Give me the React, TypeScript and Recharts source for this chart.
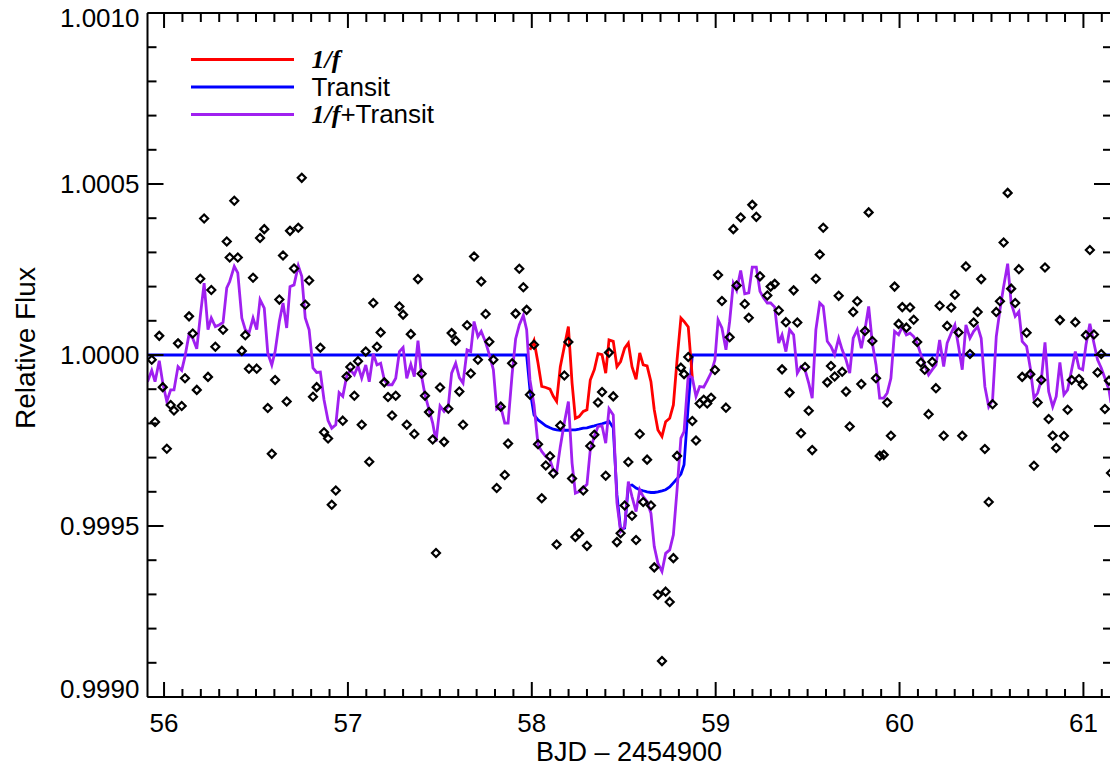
import React from 'react';
import { ComposedChart, Line, Scatter, XAxis, YAxis, Legend } from 'recharts';

// Time grid (BJD - 2454900), one entry per long-cadence sample
const times = [
  55.910, 55.933, 55.951, 55.974, 55.993, 56.015, 56.036, 56.054, 56.076, 56.096,
  56.114, 56.136, 56.156, 56.178, 56.197, 56.218, 56.239, 56.257, 56.279, 56.299,
  56.321, 56.341, 56.357, 56.382, 56.401, 56.423, 56.442, 56.462, 56.484, 56.504,
  56.522, 56.545, 56.564, 56.586, 56.604, 56.627, 56.647, 56.667, 56.685, 56.707,
  56.730, 56.749, 56.768, 56.789, 56.810, 56.830, 56.850, 56.870, 56.892, 56.912,
  56.934, 56.952, 56.972, 56.993, 57.013, 57.035, 57.055, 57.075, 57.097, 57.116,
  57.138, 57.158, 57.178, 57.198, 57.218, 57.240, 57.260, 57.280, 57.300, 57.320,
  57.342, 57.361, 57.381, 57.401, 57.419, 57.441, 57.461, 57.479, 57.501, 57.523,
  57.546, 57.564, 57.586, 57.606, 57.626, 57.648, 57.668, 57.686, 57.707, 57.725,
  57.749, 57.769, 57.791, 57.809, 57.831, 57.853, 57.871, 57.893, 57.912, 57.932,
  57.954, 57.972, 57.990, 58.012, 58.034, 58.054, 58.076, 58.099, 58.117, 58.135,
  58.155, 58.177, 58.199, 58.219, 58.237, 58.257, 58.280, 58.300, 58.318, 58.340,
  58.360, 58.382, 58.402, 58.420, 58.443, 58.463, 58.483, 58.505, 58.525, 58.545,
  58.567, 58.587, 58.606, 58.627, 58.648, 58.666, 58.686, 58.708, 58.728, 58.750,
  58.770, 58.790, 58.811, 58.828, 58.851, 58.873, 58.893, 58.913, 58.935, 58.954,
  58.975, 58.996, 59.013, 59.034, 59.056, 59.076, 59.096, 59.114, 59.136, 59.158,
  59.180, 59.199, 59.221, 59.241, 59.261, 59.281, 59.299, 59.321, 59.343, 59.361,
  59.382, 59.402, 59.424, 59.444, 59.464, 59.486, 59.506, 59.525, 59.545, 59.566,
  59.585, 59.607, 59.627, 59.647, 59.669, 59.688, 59.709, 59.729, 59.748, 59.770,
  59.792, 59.812, 59.832, 59.852, 59.872, 59.892, 59.914, 59.933, 59.953, 59.973,
  59.995, 60.015, 60.037, 60.057, 60.077, 60.096, 60.116, 60.137, 60.158, 60.178,
  60.198, 60.218, 60.240, 60.259, 60.281, 60.301, 60.321, 60.341, 60.361, 60.383,
  60.403, 60.425, 60.444, 60.464, 60.485, 60.506, 60.526, 60.546, 60.566, 60.588,
  60.607, 60.629, 60.649, 60.667, 60.691, 60.711, 60.731, 60.751, 60.771, 60.791,
  60.811, 60.833, 60.852, 60.872, 60.894, 60.914, 60.936, 60.956, 60.976, 60.996,
  61.014, 61.035, 61.057, 61.077, 61.097, 61.117, 61.139, 61.150,
];

// Observed relative flux (null where no sample is visible)
const observedFlux = [
  null, 0.999986, 0.999804, 1.000056, 0.999906, 0.999726, 0.999854, 0.999838, 1.000034, 0.999851,
  0.999932, 1.000113, 1.000063, 0.999898, 1.000223, 1.000399, 0.999936, 1.000190, 1.000024, null,
  1.000074, 1.000332, 1.000285, 1.000451, 1.000285, 1.000012, 1.000058, 0.999960, 1.000226, 0.999960,
  1.000342, 1.000368, 0.999845, 0.999711, 0.999927, 1.000162, 1.000291, 0.999864, 1.000363, 1.000253,
  1.000372, 1.000518, 1.000147, 1.000218, 0.999878, 0.999906, 1.000021, 0.999774, 0.999756, 0.999562,
  0.999604, null, 0.999808, 0.999937, 0.999965, 0.999881, 0.999982, 0.999796, 1.000010, 0.999688,
  1.000152, 1.000024, 1.000066, 0.999920, 0.999877, 0.999823, 0.999881, 1.000142, 1.000118, 0.999796,
  1.000061, 0.999769, 1.000222, 0.999945, 0.999881, 0.999833, 0.999753, 0.999421, 0.999905, 0.999746,
  0.999843, 1.000064, 1.000042, 0.999893, 0.999796, 1.000087, 0.999946, 1.000288, 0.999986, 1.000215,
  1.000120, 1.000039, 0.999986, 0.999611, 0.999849, 0.999649, 0.999741, 0.999976, 1.000121, 1.000252,
  1.000198, 1.000132, 0.999884, 1.000030, 0.999739, 0.999581, 0.999677, 0.999704, 0.999654, 0.999446,
  0.999794, 0.999940, 1.000038, 0.999639, 0.999468, 0.999479, 0.999604, 0.999442, 0.999734, 0.999767,
  0.999861, 0.999892, 0.999647, 1.000007, 0.999879, 0.999453, 0.999479, 0.999560, 0.999687, 0.999530,
  0.999459, 0.999769, 0.999570, 0.999694, 0.999560, 0.999379, 0.999299, 0.999105, 0.999308, 0.999278,
  0.999406, 0.999705, 0.999963, 0.999944, 0.999994, 0.999807, 0.999750, 0.999858, 0.999869, 0.999858,
  0.999875, 0.999956, 1.000234, 1.000158, 0.999846, 1.000052, 1.000368, 1.000203, 1.000402, 1.000149,
  1.000109, 1.000439, 1.000404, 1.000230, null, 1.000174, 1.000200, 1.000208, 1.000130, 0.999958,
  1.000096, 0.999890, 1.000189, 1.000095, 0.999771, 0.999965, 0.999837, 0.999722, 1.000223, 1.000294,
  1.000372, 0.999920, 0.999968, 0.999937, 1.000173, 0.999951, 0.999893, 0.999791, 1.000126, 1.000157,
  0.999915, 1.000070, 1.000417, 1.000041, 0.999932, 0.999705, 0.999708, 0.999861, 0.999764, 1.000200,
  1.000091, 1.000140, 1.000080, 1.000139, 1.000103, 1.000038, 0.999978, 0.999957, 0.999827, 0.999980,
  0.999903, 1.000144, 0.999764, 1.000085, 1.000139, 1.000176, 1.000066, 0.999764, 1.000259, 1.000003,
  1.000095, 1.000126, 1.000222, 0.999725, 0.999570, 0.999856, 1.000126, 1.000157, 1.000329, 1.000474,
  1.000194, 1.000152, 1.000251, 0.999936, 1.000065, 0.999944, 0.999676, 0.999861, 0.999927, 1.000256,
  0.999813, 0.999764, 0.999728, 1.000102, 0.999763, 0.999840, 0.999927, 1.000096, 0.999930, 0.999913,
  1.000058, 1.000307, 1.000060, 0.999949, 1.000003, 0.999842, 0.999925, 0.999655,
];

// 1/f + Transit model (purple)
const combinedModel = [
  0.999922, 0.999955, 0.999922, 0.999983, 0.999918, 0.999864, 0.999898, 0.999898, 0.999966, 0.999955,
  0.999996, 1.000061, 1.000049, 1.000018, 1.000113, 1.000210, 1.000074, 1.000108, 1.000083, 1.000088,
  1.000095, 1.000196, 1.000215, 1.000259, 1.000240, 1.000108, 1.000074, 1.000064, 1.000108, 1.000074,
  1.000162, 1.000137, 1.000006, 0.999971, 1.000010, 1.000098, 1.000152, 1.000079, 1.000200, 1.000205,
  1.000261, 1.000230, 1.000108, 1.000074, 0.999962, 0.999949, 0.999950, 0.999869, 0.999808, 0.999786,
  0.999796, 0.999890, 0.999879, 0.999937, 0.999957, 0.999942, 0.999968, 0.999932, 0.999971, 0.999922,
  1.000004, 0.999971, 0.999976, 0.999927, 0.999913, 0.999913, 0.999932, 1.000010, 1.000022, 0.999932,
  0.999973, 0.999937, 1.000042, 0.999937, 0.999884, 0.999840, 0.999801, 0.999747, 0.999851, 0.999835,
  0.999851, 0.999947, 0.999976, 0.999934, 0.999918, 1.000015, 1.000010, 1.000098, 1.000054, 1.000069,
  1.000037, 1.000001, 0.999957, 0.999842, 0.999849, 0.999801, 0.999801, 0.999944, 1.000047, 1.000088,
  1.000116, 1.000074, 0.999927, 0.999854, 0.999737, 0.999718, 0.999703, 0.999693, 0.999664, 0.999656,
  0.999732, 0.999802, 0.999864, 0.999684, 0.999596, 0.999601, 0.999611, 0.999622, 0.999723, 0.999762,
  0.999791, 0.999793, 0.999742, 0.999843, 0.999825, 0.999568, 0.999484, 0.999498, 0.999630, 0.999586,
  0.999542, 0.999606, 0.999586, 0.999571, 0.999537, 0.999440, 0.999391, 0.999367, 0.999420, 0.999430,
  0.999474, 0.999606, 0.999757, 0.999776, 0.999942, 0.999933, 0.999879, 0.999908, 0.999906, 0.999925,
  0.999948, 0.999986, 1.000103, 1.000079, 1.000015, 1.000098, 1.000210, 1.000189, 1.000247, 1.000179,
  1.000182, 1.000257, 1.000257, 1.000186, 1.000167, 1.000152, 1.000152, 1.000140, 1.000035, 1.000059,
  1.000010, 1.000074, 1.000059, 0.999947, 0.999966, 0.999957, 0.999918, 0.999874, 1.000074, 1.000152,
  1.000142, 1.000040, 1.000025, 1.000001, 1.000049, 1.000015, 0.999986, 0.999947, 1.000049, 1.000074,
  1.000020, 1.000074, 1.000142, 1.000035, 0.999971, 0.999874, 0.999874, 0.999889, 0.999932, 1.000069,
  1.000059, 1.000083, 1.000059, 1.000064, 1.000054, 1.000035, 1.000001, 0.999971, 0.999942, 0.999957,
  0.999971, 1.000044, 0.999966, 1.000035, 1.000064, 1.000088, 1.000025, 0.999957, 1.000088, 1.000049,
  1.000069, 1.000083, 1.000049, 0.999908, 0.999849, 0.999869, 1.000054, 1.000132, 1.000200, 1.000267,
  1.000152, 1.000113, 1.000127, 1.000040, 1.000025, 0.999962, 0.999874, 0.999889, 0.999927, 1.000037,
  0.999893, 0.999849, 0.999879, 0.999978, 0.999884, 0.999898, 0.999957, 1.000010, 0.999962, 0.999957,
  1.000030, 1.000091, 1.000035, 0.999986, 0.999962, 0.999932, 0.999898, 0.999860,
];

// Transit model (blue)
const transitTimes = [
  55.910, 57.972, 57.990, 58.012, 58.034, 58.054, 58.076, 58.099, 58.117, 58.135,
  58.155, 58.177, 58.199, 58.219, 58.237, 58.257, 58.280, 58.300, 58.318, 58.340,
  58.360, 58.382, 58.402, 58.420, 58.443, 58.463, 58.483, 58.505, 58.525, 58.545,
  58.567, 58.587, 58.606, 58.627, 58.648, 58.666, 58.686, 58.708, 58.728, 58.750,
  58.770, 58.790, 58.811, 58.828, 58.851, 58.873, 61.150,
];
const transitModel = [
  1.000000, 1.000000, 0.999898, 0.999825, 0.999810, 0.999802, 0.999793, 0.999787, 0.999783, 0.999781,
  0.999780, 0.999780, 0.999780, 0.999781, 0.999781, 0.999783, 0.999786, 0.999787, 0.999790, 0.999793,
  0.999796, 0.999799, 0.999802, 0.999806, 0.999787, 0.999591, 0.999489, 0.999494, 0.999617, 0.999620,
  0.999611, 0.999606, 0.999603, 0.999600, 0.999598, 0.999598, 0.999600, 0.999603, 0.999606, 0.999614,
  0.999626, 0.999638, 0.999652, 0.999679, 0.999854, 1.000000, 1.000000,
];

// 1/f noise model (red), shown during transit
const oneOverFTimes = [
  57.990, 58.012, 58.034, 58.054, 58.076, 58.099, 58.117, 58.135, 58.155, 58.177,
  58.199, 58.219, 58.237, 58.257, 58.280, 58.300, 58.318, 58.340, 58.360, 58.382,
  58.402, 58.420, 58.443, 58.463, 58.483, 58.505, 58.525, 58.545, 58.567, 58.587,
  58.606, 58.627, 58.648, 58.666, 58.686, 58.708, 58.728, 58.750, 58.770, 58.790,
  58.811, 58.828, 58.851, 58.873,
];
const oneOverFModel = [
  1.000015, 1.000042, 0.999976, 0.999908, 0.999905, 0.999900, 0.999879, 0.999864, 0.999966, 1.000025,
  1.000083, 0.999918, 0.999815, 0.999820, 0.999835, 0.999840, 0.999927, 0.999957, 1.000004, 1.000001,
  0.999947, 1.000044, 1.000040, 0.999966, 0.999981, 1.000020, 1.000035, 0.999966, 0.999929, 1.000006,
  0.999971, 0.999968, 0.999922, 0.999840, 0.999781, 0.999762, 0.999805, 0.999815, 0.999854, 0.999986,
  1.000108, 1.000098, 1.000082, 0.999933,
];

const xDomain = [55.91, 61.15];
const yDomain = [0.999, 1.001];
const xMajorTicks = [56, 57, 58, 59, 60, 61];
const yMajorTicks = [0.999, 0.9995, 1.0, 1.0005, 1.001];
const yTickLabels = ['0.9990', '0.9995', '1.0000', '1.0005', '1.0010'];
const legendItems = [
  { key: 'f', color: '#ff0000', italic: '1/f', plain: '' },
  { key: 't', color: '#0000ff', italic: '', plain: 'Transit' },
  { key: 'ft', color: '#a020f0', italic: '1/f', plain: '+Transit' },
];

// minor tick positions (0.1 day, 0.0001 flux)
const xTicks: number[] = [];
for (let i = 0; i <= 51; i++) xTicks.push(Math.round((56 + i * 0.1) * 10) / 10);
const yTicks: number[] = [];
for (let i = 0; i <= 20; i++) yTicks.push(Math.round((0.999 + i * 0.0001) * 1e4) / 1e4);

const pointData = times
  .map((t, i) => ({ t, flux: observedFlux[i] }))
  .filter((d) => d.flux !== null);
const modelData = times.map((t, i) => ({ t, combined: combinedModel[i] }));
const transitData = transitTimes.map((t, i) => ({ t, transit: transitModel[i] }));
const noiseData = oneOverFTimes.map((t, i) => ({ t, noise: oneOverFModel[i] }));

const SANS = '"Liberation Sans", Arial, Helvetica, sans-serif';
const SERIF = '"Liberation Serif", "Times New Roman", serif';
const LINE_W = 2.8;

const isXMajor = (v: number) => xMajorTicks.some((m) => Math.abs(m - v) < 1e-6);
const yMajorIndex = (v: number) => yMajorTicks.findIndex((m) => Math.abs(m - v) < 1e-9);

const BottomTick = (props: any) => {
  const { x, y, payload } = props;
  const v = payload.value;
  const major = isXMajor(v);
  return (
    <g>
      <line x1={x} x2={x} y1={y} y2={y - (major ? 15 : 8)} stroke="#000" strokeWidth={2} />
      {major && (
        <text x={x} y={y + 35} textAnchor="middle" fontSize={26} fontFamily={SANS} fill="#000">
          {String(Math.round(v))}
        </text>
      )}
    </g>
  );
};

const TopTick = (props: any) => {
  const { x, y, payload } = props;
  const major = isXMajor(payload.value);
  return <line x1={x} x2={x} y1={y} y2={y + (major ? 15 : 9)} stroke="#000" strokeWidth={2} />;
};

const LeftTick = (props: any) => {
  const { x, y, payload } = props;
  const idx = yMajorIndex(payload.value);
  const major = idx >= 0;
  let base = y + 9;
  if (idx === yMajorTicks.length - 1) base = y + 14;
  if (idx === 0) base = y + 1;
  return (
    <g>
      <line x1={x} x2={x + (major ? 16 : 9)} y1={y} y2={y} stroke="#000" strokeWidth={2} />
      {major && (
        <text x={x - 8} y={base} textAnchor="end" fontSize={26} fontFamily={SANS} fill="#000">
          {yTickLabels[idx]}
        </text>
      )}
    </g>
  );
};

const RightTick = (props: any) => {
  const { x, y, payload } = props;
  const major = yMajorIndex(payload.value) >= 0;
  return <line x1={x} x2={x - (major ? 17 : 8)} y1={y} y2={y} stroke="#000" strokeWidth={2} />;
};

const Diamond = (props: any) => {
  const { cx, cy } = props;
  if (cx == null || cy == null) return null;
  const r = 4;
  return (
    <path
      d={`M${cx},${cy - r}L${cx + r},${cy}L${cx},${cy + r}L${cx - r},${cy}Z`}
      fill="none"
      stroke="#000"
      strokeWidth={2.2}
    />
  );
};

const XTitle = () => (
  <text x={629} y={761} textAnchor="middle" fontSize={27} fontFamily={SANS} fill="#000">
    BJD – 2454900
  </text>
);

const YTitle = () => (
  <text
    x={35}
    y={348}
    transform="rotate(-90 35 348)"
    textAnchor="middle"
    fontSize={28}
    fontFamily={SANS}
    fill="#000"
  >
    Relative Flux
  </text>
);

const LegendContent = () => (
  <svg width={320} height={100} style={{ display: 'block' }}>
    {legendItems.map((it, i) => {
      const ly = 19.5 + i * 27.5;
      return (
        <g key={it.key}>
          <line x1={11} x2={114} y1={ly} y2={ly} stroke={it.color} strokeWidth={LINE_W} />
          <text x={131.5} y={ly + 8.5} fontSize={26} fontFamily={SANS} fill="#000">
            {it.italic && (
              <tspan fontFamily={SERIF} fontStyle="italic" fontWeight="bold">
                {it.italic}
              </tspan>
            )}
            {it.plain && <tspan>{it.plain}</tspan>}
          </text>
        </g>
      );
    })}
  </svg>
);

export default function App() {
  return (
    <div
      style={{
        position: 'absolute',
        left: 0,
        top: 0,
        width: 1110,
        height: 771,
        overflow: 'hidden',
        background: '#fff',
      }}
    >
      <ComposedChart width={1130} height={771} margin={{ top: 12, right: 18, bottom: 0, left: 0 }}>
        <XAxis
          xAxisId="bottom"
          dataKey="t"
          type="number"
          orientation="bottom"
          domain={xDomain}
          allowDataOverflow
          ticks={xTicks}
          interval={0}
          tick={<BottomTick />}
          tickLine={false}
          tickSize={0}
          tickMargin={0}
          height={74}
          axisLine={{ stroke: '#000', strokeWidth: 2 }}
          label={<XTitle />}
        />
        <XAxis
          xAxisId="top"
          dataKey="t"
          type="number"
          orientation="top"
          domain={xDomain}
          allowDataOverflow
          ticks={xTicks}
          interval={0}
          tick={<TopTick />}
          tickLine={false}
          tickSize={0}
          tickMargin={0}
          height={1}
          axisLine={{ stroke: '#000', strokeWidth: 2 }}
        />
        <YAxis
          yAxisId="left"
          type="number"
          orientation="left"
          domain={yDomain}
          allowDataOverflow
          ticks={yTicks}
          interval={0}
          tick={<LeftTick />}
          tickLine={false}
          tickSize={0}
          tickMargin={0}
          width={147.5}
          axisLine={{ stroke: '#000', strokeWidth: 2 }}
          label={<YTitle />}
        />
        <YAxis
          yAxisId="right"
          type="number"
          orientation="right"
          domain={yDomain}
          allowDataOverflow
          ticks={yTicks}
          interval={0}
          tick={<RightTick />}
          tickLine={false}
          tickSize={0}
          tickMargin={0}
          width={1}
          axisLine={{ stroke: '#000', strokeWidth: 2 }}
        />
        <Legend
          layout="vertical"
          align="center"
          verticalAlign="middle"
          wrapperStyle={{ left: 180, top: 40, width: 320, height: 100, margin: 0, padding: 0 }}
          content={<LegendContent />}
        />
        <Scatter
          name="Data"
          data={pointData}
          dataKey="flux"
          xAxisId="bottom"
          yAxisId="left"
          shape={<Diamond />}
          legendType="none"
          isAnimationActive={false}
        />
        <Line
          name="Transit"
          data={transitData}
          dataKey="transit"
          xAxisId="bottom"
          yAxisId="left"
          type="linear"
          stroke="#0000ff"
          strokeWidth={LINE_W}
          dot={false}
          activeDot={false}
          isAnimationActive={false}
        />
        <Line
          name="1/f"
          data={noiseData}
          dataKey="noise"
          xAxisId="bottom"
          yAxisId="left"
          type="linear"
          stroke="#ff0000"
          strokeWidth={LINE_W}
          dot={false}
          activeDot={false}
          isAnimationActive={false}
        />
        <Line
          name="1/f+Transit"
          data={modelData}
          dataKey="combined"
          xAxisId="bottom"
          yAxisId="left"
          type="linear"
          stroke="#a020f0"
          strokeWidth={LINE_W}
          dot={false}
          activeDot={false}
          isAnimationActive={false}
        />
      </ComposedChart>
    </div>
  );
}
